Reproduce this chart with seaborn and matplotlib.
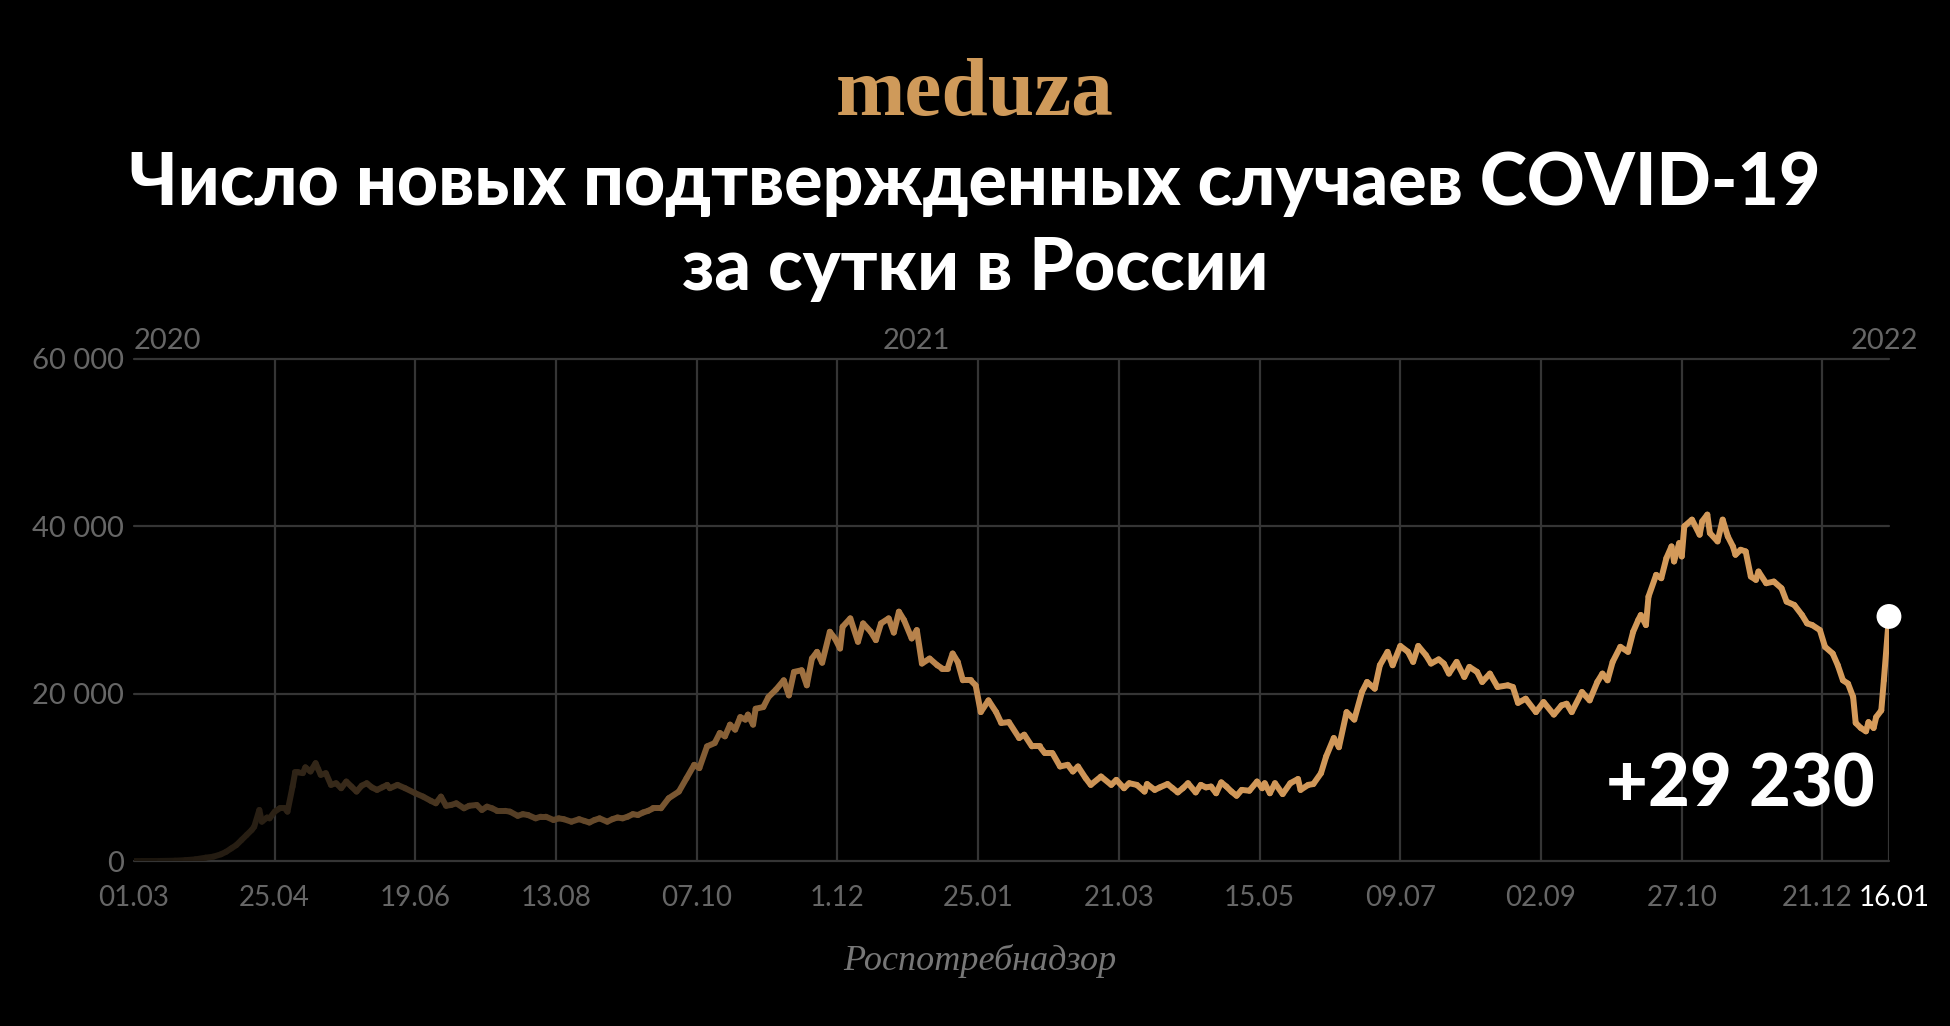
import numpy as np
import pandas as pd
import matplotlib.pyplot as plt
from matplotlib.colors import LinearSegmentedColormap
from matplotlib.transforms import ScaledTranslation
import seaborn as sns

# Число новых случаев COVID-19 в России (Роспотребнадзор)
start = pd.Timestamp("2020-03-01")

days_wave1 = [0, 10, 16, 20, 24, 28, 31, 34, 36, 38, 40, 42, 44, 46, 47, 49, 50, 52, 53, 55,
              57, 59, 60, 62, 63, 64, 66, 67, 69, 71, 72, 73, 75, 77, 79, 81, 83, 85, 87, 89,
              91, 93, 95, 97, 99, 100, 103, 106, 110, 113, 116, 118, 120, 122, 124, 126, 129,
              131, 134, 136, 138, 140, 142, 145, 147, 150, 152, 154, 157, 159, 161, 164, 166,
              168, 171, 174, 176, 178, 180, 182, 185, 187, 189, 191, 193, 195, 197, 199]
cases_wave1 = [0, 10, 40, 100, 200, 400, 520, 800, 1100, 1500, 1900, 2500, 3100, 3700, 4100,
               6100, 4700, 5200, 5100, 5900, 6300, 6300, 5900, 8900, 10600, 10600, 10500, 11200,
               10700, 11700, 11000, 10300, 10500, 9100, 9300, 8700, 9500, 8900, 8300, 9000,
               9300, 8800, 8500, 8800, 9100, 8700, 9100, 8700, 8100, 7700, 7200, 6900, 7700,
               6600, 6700, 6900, 6300, 6600, 6700, 6100, 6500, 6300, 6000, 6000, 5900, 5400,
               5600, 5500, 5100, 5300, 5300, 4900, 5100, 5000, 4700, 5000, 4800, 4600, 4900,
               5100, 4700, 5000, 5200, 5100, 5300, 5600, 5500, 5800]

days_wave2 = [201, 203, 206, 209, 213, 216, 219, 221, 224, 227, 229, 231, 233, 235, 237, 239,
              240, 242, 243, 246, 248, 251, 254, 256, 258, 261, 263, 265, 267, 269, 272, 274,
              276, 277, 280, 283, 285, 288, 290, 292, 295, 297, 299, 301, 304, 306, 308, 311,
              314, 316, 318, 320, 322, 324, 327, 329, 331, 334, 337, 339, 342, 346, 348, 351,
              354, 356, 359, 362, 365, 367, 369, 372, 374, 378, 382, 384, 387, 389, 392, 395]
cases_wave2 = [6000, 6300, 6300, 7500, 8300, 9900, 11500, 11100, 13700, 14100, 15300, 14900,
               16300, 15700, 17200, 16900, 17500, 16300, 18200, 18400, 19600, 20500, 21600,
               19800, 22600, 22800, 21000, 24200, 25000, 23700, 27400, 26600, 25400, 28000,
               29000, 26200, 28400, 27400, 26400, 28400, 29000, 27300, 29800, 28800, 26600,
               27600, 23600, 24200, 23400, 23000, 23000, 24800, 23800, 21600, 21600, 21000,
               17800, 19200, 17800, 16500, 16600, 14700, 15100, 13700, 13700, 12900, 12900,
               11300, 11500, 10700, 11300, 9900, 9100, 10100, 9100, 9700, 8700, 9300, 9100, 8300]

days_wave3 = [396, 399, 401, 404, 406, 408, 410, 412, 415, 417, 419, 421, 423, 425, 427, 429,
              431, 433, 436, 439, 441, 442, 444, 446, 449, 452, 455, 456, 459, 461, 464, 466,
              469, 471, 474, 477, 480, 482, 485, 487, 490, 492, 495, 498, 500, 502, 505, 507,
              510, 512, 514, 517, 520, 522, 525, 527, 530, 533, 537, 539, 541, 544, 548, 551,
              555, 558, 560, 562]
cases_wave3 = [9200, 8500, 8800, 9200, 8700, 8200, 8700, 9300, 8200, 9100, 8800, 8900, 8100,
               9400, 8900, 8300, 7800, 8500, 8400, 9500, 8700, 9300, 8100, 9300, 8000, 9300,
               9800, 8500, 9100, 9200, 10500, 12500, 14700, 13600, 17800, 16900, 20200, 21400,
               20600, 23400, 25000, 23400, 25700, 25000, 23800, 25700, 24600, 23600, 24100,
               23600, 22400, 23800, 22000, 23200, 22600, 21400, 22400, 20800, 21000, 20800,
               18900, 19400, 17800, 19000, 17500, 18600, 18800, 17800]

days_wave4 = [566, 569, 572, 574, 576, 578, 581, 584, 586, 588, 589, 591, 592, 595, 597, 599,
              601, 602, 604, 605, 606, 609, 612, 613, 615, 616, 619, 621, 623, 625, 626, 628,
              630, 632, 634, 635, 638, 641, 644, 646, 649, 652, 654, 656, 659, 661, 664, 666,
              668, 670, 672, 673, 675, 677, 678, 680, 681, 683, 684, 686]
cases_wave4 = [20200, 19200, 21400, 22400, 21600, 23800, 25600, 25000, 27400, 28800, 29400,
               28200, 31600, 34200, 33800, 36200, 37600, 35800, 38000, 36400, 40000, 40800,
               39000, 40600, 41400, 39200, 38200, 40800, 38800, 37600, 36600, 37200, 37000,
               34000, 33600, 34600, 33200, 33400, 32600, 31000, 30600, 29400, 28400, 28200,
               27600, 25600, 24800, 23400, 21600, 21200, 19600, 16500, 15900, 15500, 16600,
               15900, 17200, 18000, 21600, 29230]

# подписи осей
tick_days = [0, 55, 110, 165, 220, 275, 330, 385, 440, 495, 550, 605, 660, 686]
tick_labels = ["01.03", "25.04", "19.06", "13.08", "07.10", "1.12", "25.01", "21.03",
               "15.05", "09.07", "02.09", "27.10", "21.12", "16.01"]
y_ticks = [0, 20000, 40000, 60000]
y_labels = ["0", "20 000", "40 000", "60 000"]
year_labels = ["2020", "2021", "2022"]
year_dates = ["2020-03-01", "2021-01-01", "2022-01-01"]

###########################################
# подготовка данных
###########################################
days = np.array(days_wave1 + days_wave2 + days_wave3 + days_wave4, dtype=float)
cases = np.array(cases_wave1 + cases_wave2 + cases_wave3 + cases_wave4, dtype=float)
dates = start + pd.to_timedelta(days, unit="D")

# каждый отрезок — своя группа hue, чтобы получить градиент по времени
mid = (days[:-1] + days[1:]) / 2
seg_df = pd.DataFrame({
    "date": np.concatenate([dates[:-1], dates[1:]]),
    "cases": np.concatenate([cases[:-1], cases[1:]]),
    "seg": np.concatenate([mid, mid]),
})

grad = LinearSegmentedColormap.from_list("meduza", [
    (0.00, "#1a140d"), (0.08, "#2b2115"), (0.16, "#45331f"), (0.24, "#5c4328"),
    (0.32, "#805b34"), (0.40, "#a87744"), (0.48, "#c48c52"), (0.56, "#d09758"),
    (1.00, "#d59b5b"),
])

###########################################
# график
###########################################
sns.set_style("dark", {"axes.facecolor": "black", "figure.facecolor": "black",
                       "grid.color": "#353535", "axes.grid": True})
plt.rcParams["font.family"] = ["Lato", "DejaVu Sans"]

fig = plt.figure(figsize=(19.5, 10.26), dpi=100)
fig.patch.set_facecolor("black")
ax = fig.add_axes([0.0687, 0.1608, 0.9, 0.4893])
ax.set_facecolor("black")

grey = "#666666"
grid_c = "#353535"

ax.vlines(dates[-1], 0, cases[-1], color=grid_c, lw=1.6, zorder=1)

sns.lineplot(data=seg_df, x="date", y="cases", hue="seg", palette=grad, hue_norm=(0, 686),
             estimator=None, legend=False, linewidth=4.3, solid_capstyle="round", ax=ax, zorder=3)
sns.scatterplot(x=[dates[-1]], y=[cases[-1]], color="white", s=320, edgecolor="none",
                legend=False, ax=ax, zorder=5, clip_on=False)

ax.set_xlim(start, start + pd.Timedelta(days=686))
ax.set_ylim(0, 60000)
ax.set_xticks(start + pd.to_timedelta(tick_days, unit="D"))
ax.set_xticklabels(tick_labels)
ax.set_yticks(y_ticks)
ax.set_yticklabels(y_labels)
ax.set_xlabel("")
ax.set_ylabel("")
ax.tick_params(axis="both", length=0, labelsize=21, labelcolor=grey)
ax.tick_params(axis="x", pad=17, labelsize=20)
ax.tick_params(axis="y", pad=7)

# две последние подписи чуть раздвинуть, чтобы не слипались
xlabs = ax.xaxis.get_ticklabels()
xlabs[-1].set_color("white")
xlabs[-1].set_transform(xlabs[-1].get_transform() + ScaledTranslation(4 / 72, 0, fig.dpi_scale_trans))
xlabs[-2].set_transform(xlabs[-2].get_transform() + ScaledTranslation(-4 / 72, 0, fig.dpi_scale_trans))

ax.grid(True, color=grid_c, lw=1.6)
for gl in ax.xaxis.get_gridlines():
    gl.set_zorder(0)
ax.xaxis.get_gridlines()[0].set_visible(False)
ax.xaxis.get_gridlines()[-1].set_visible(False)
for gl in ax.yaxis.get_gridlines():
    gl.set_clip_on(False)
for s in ax.spines.values():
    s.set_visible(False)

# годы над графиком
for lab, d in zip(year_labels, year_dates):
    ha = "center" if lab == "2021" else "left"
    ax.text(pd.Timestamp(d), 1.036, lab, transform=ax.get_xaxis_transform(),
            ha=ha, va="center", fontsize=21, color=grey)

# последнее значение
ax.annotate(f"+{int(cases[-1]):,}".replace(",", " "), xy=(dates[-1], cases[-1]),
            xytext=(-10, -122), textcoords="offset points", ha="right", va="center",
            fontsize=52, fontweight="black", color="white")

fig.text(0.5, 0.907, "meduza", ha="center", va="center", fontsize=60, fontweight="bold",
         color="#cf9a5a", family="Liberation Serif")
fig.text(0.5, 0.779, "Число новых подтвержденных случаев COVID-19\nза сутки в России",
         ha="center", va="center", fontsize=51.5, fontweight="black", color="white",
         linespacing=1.33)
fig.text(0.5026, 0.0634, "Роспотребнадзор", ha="center", va="center", fontsize=26,
         style="italic", color="#777777", family="Liberation Serif")

plt.savefig("out.png", dpi=100, facecolor="black")
